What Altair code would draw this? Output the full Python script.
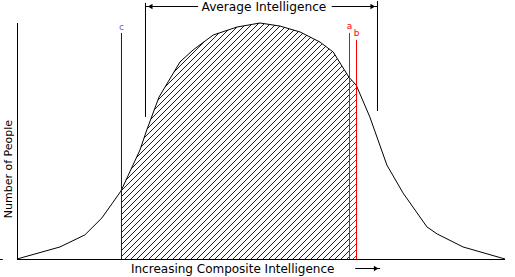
import altair as alt
import numpy as np
import pandas as pd

alt.data_transformers.disable_max_rows()

# ---- data (arbitrary units 0..100) ----
score = [0.0, 8.8, 13.9, 17.4, 21.3, 25.2, 26.6, 29.1, 33.4, 36.1, 40.2, 45.1, 49.8,
         53.9, 58.0, 62.1, 64.8, 68.0, 69.5, 72.3, 75.8, 79.1, 84.0, 86.1, 91.4, 100.0]
people = [0.0, 5.1, 10.2, 17.4, 28.8, 46.2, 54.7, 68.6, 83.5, 88.6, 94.9, 98.3, 100.0,
          98.7, 96.2, 91.9, 87.7, 77.1, 73.7, 60.2, 39.8, 28.0, 13.6, 10.6, 5.1, 0.0]

marker_names = ["c", "a", "b"]
marker_x = [21.41, 68.14, 69.57]
marker_top = [95.8, 95.8, 92.8]
marker_label_y = [98.3, 98.7, 95.8]
marker_colors = ["#0000ff", "#ff0000", "#ff0000"]
marker_label_colors = ["#5a5aff", "#ff0000", "#ff0000"]

avg_left, avg_right = 26.33, 73.87
avg_title = "Average Intelligence"
x_title = "Increasing Composite Intelligence"
y_title = "Number of People"

# ---- layout ----
W, H = 488, 236
sx, sy = W / 100.0, H / 100.0
HATCH_STEP = 6  # px between hatch lines
HATCH_PHASE = 0


def pixel_hatch(x_left, x_right):
    """1-px diagonal '/' hatch under the curve between two marker lines."""
    c0 = int(np.floor(x_left * sx)) + 1
    c1 = int(np.floor(x_right * sx)) - 1
    cells = []
    for i in range(c0, c1 + 1):
        h = float(np.interp((i + 0.5) / sx, score, people)) * sy
        for j in range(int(h) + 1):
            if j + 0.5 < h and (i - j) % HATCH_STEP == HATCH_PHASE:
                cells.append({"x": i / sx, "x2": (i + 1) / sx, "y": j / sy, "y2": (j + 1) / sy})
    return pd.DataFrame(cells)


xs = alt.Scale(domain=[0, 100], nice=False, zero=False)
ys = alt.Scale(domain=[0, 100], nice=False, zero=False)
X = lambda f: alt.X(f, type="quantitative", scale=xs, axis=None)
Y = lambda f: alt.Y(f, type="quantitative", scale=ys, axis=None)

blue_h = alt.Chart(pixel_hatch(marker_x[0], marker_x[1])).mark_rect(color="#0000ff").encode(
    x=X("x"), x2="x2", y=Y("y"), y2="y2")
red_h = alt.Chart(pixel_hatch(marker_x[1], marker_x[2])).mark_rect(color="#ff0000").encode(
    x=X("x"), x2="x2", y=Y("y"), y2="y2")

curve = alt.Chart(pd.DataFrame({"x": score, "y": people})).mark_line(
    color="black", strokeWidth=1, interpolate="linear").encode(x=X("x"), y=Y("y"), order="x:Q")

AXIS_Y = -0.5 / sy  # pixel-centred baseline
mk = pd.DataFrame({"name": marker_names, "x": marker_x, "top": marker_top,
                   "ly": marker_label_y, "col": marker_colors, "lcol": marker_label_colors})
mk["zero"] = AXIS_Y
markers = alt.Chart(mk).mark_rule(strokeWidth=1).encode(
    x=X("x"), y=Y("zero"), y2="top", color=alt.Color("col:N", scale=None))
marker_labels = alt.Chart(mk).mark_text(font="DejaVu Sans", fontSize=9, baseline="middle").encode(
    x=X("x"), y=Y("ly"), text="name:N", color=alt.Color("lcol:N", scale=None))

# average intelligence bracket
BR_Y = 106.99
vlines = pd.DataFrame({"x": [avg_left, avg_right], "y": [60.2, 62.7], "y2": [108.5, 109.3]})
bracket = alt.Chart(vlines).mark_rule(color="black", strokeWidth=1).encode(
    x=X("x"), y=Y("y"), y2="y2")
segs = pd.DataFrame({"x": [avg_left, 64.5], "x2": [37.1, avg_right], "y": [BR_Y, BR_Y]})
bracket_line = alt.Chart(segs).mark_rule(color="black", strokeWidth=1).encode(
    x=X("x"), x2="x2", y=Y("y"))
heads = pd.DataFrame({"x": [27.3, 72.9], "y": [BR_Y, BR_Y],
                      "shape": ["triangle-left", "triangle-right"]})
bracket_heads = alt.Chart(heads).mark_point(filled=True, color="black", size=28, opacity=1).encode(
    x=X("x"), y=Y("y"), shape=alt.Shape("shape:N", scale=None))
avg_text = alt.Chart(pd.DataFrame({"x": [50.6], "y": [106.6], "t": [avg_title]})).mark_text(
    font="DejaVu Sans", fontSize=12.2, baseline="middle", color="black").encode(
    x=X("x"), y=Y("y"), text="t:N")

# axes
AX_X = 0.5 / sx
axes = alt.Chart(pd.DataFrame({"x": [AX_X, 0.0], "x2": [AX_X, 100.0],
                               "y": [AXIS_Y, AXIS_Y], "y2": [100.0, AXIS_Y]})).mark_rule(
    color="black", strokeWidth=1).encode(x=X("x"), x2="x2", y=Y("y"), y2="y2")
stray = alt.Chart(pd.DataFrame({"x": [-3.5], "x2": [-2.9], "y": [AXIS_Y]})).mark_rule(
    color="black", strokeWidth=1).encode(x=X("x"), x2="x2", y=Y("y"))

XL_Y = -4.03
xlab = alt.Chart(pd.DataFrame({"x": [44.2], "y": [XL_Y], "t": [x_title]})).mark_text(
    font="DejaVu Sans", fontSize=12, baseline="middle", color="black").encode(
    x=X("x"), y=Y("y"), text="t:N")
xarrow = alt.Chart(pd.DataFrame({"x": [69.3], "x2": [74.4], "y": [XL_Y]})).mark_rule(
    color="black", strokeWidth=1).encode(x=X("x"), x2="x2", y=Y("y"))
xhead = alt.Chart(pd.DataFrame({"x": [73.6], "y": [XL_Y]})).mark_point(
    shape="triangle-right", filled=True, color="black", size=28, opacity=1).encode(x=X("x"), y=Y("y"))
ylab = alt.Chart(pd.DataFrame({"x": [-1.6], "y": [38.1], "t": [y_title]})).mark_text(
    font="DejaVu Sans", fontSize=11, angle=270, baseline="middle", color="black").encode(
    x=X("x"), y=Y("y"), text="t:N")

chart = alt.layer(
    blue_h, red_h, curve, markers, marker_labels, bracket, bracket_line, bracket_heads,
    avg_text, axes, stray, xlab, xarrow, xhead, ylab
).properties(
    width=W, height=H,
    autosize=alt.AutoSizeParams(type="none"),
    padding={"left": 17, "top": 23, "right": 10, "bottom": 18},
    background="white",
).configure_view(stroke=None)

chart.save("out.html", embed_options={"renderer": "svg", "actions": False})
